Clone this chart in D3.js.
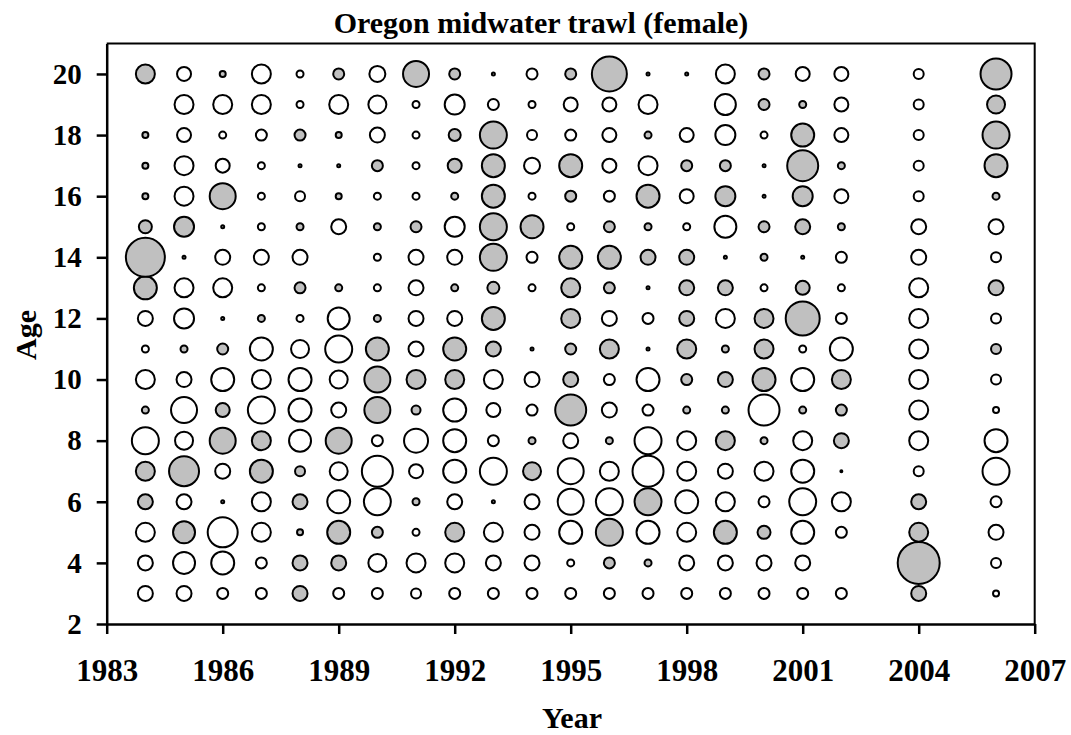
<!DOCTYPE html>
<html>
<head>
<meta charset="utf-8">
<script src="https://cdn.jsdelivr.net/npm/d3@7"></script>
<style>
  html, body { margin: 0; padding: 0; background: #fff; }
  svg { display: block; }
  text { font-family: "Liberation Serif", "Times New Roman", serif; font-weight: bold; fill: #000; }
</style>
</head>
<body>
<svg id="chart" width="1071" height="735"></svg>
<script>
// Pearson residuals of age composition, Oregon midwater trawl (female).
// Positive residuals are shaded, negative ones open; null = no observation.
const years = [1984, 1985, 1986, 1987, 1988, 1989, 1990, 1991, 1992, 1993,
               1994, 1995, 1996, 1997, 1998, 1999, 2000, 2001, 2002, 2004, 2006];
const ages = [3, 4, 5, 6, 7, 8, 9, 10, 11, 12, 13, 14, 15, 16, 17, 18, 19, 20];

// one row per year, ages 3 → 20
const residuals = [
  [-1.7, -1.7, -2.1,  1.7,  2.1, -2.9,  0.9, -2.1, -0.9, -1.7,  2.5,  4.1,  1.5,  0.8,  0.8,  0.8, null,  2.1], // 1984
  [-1.7, -2.4,  2.4, -1.7,  3.2, -2.0, -2.8, -1.7,  0.9, -2.2, -2.1,  0.5,  2.2, -2.1, -2.1, -1.6, -2.1, -1.6], // 1985
  [-1.3, -2.5, -3.2,  0.5, -1.7,  2.8,  1.6, -2.5,  1.3,  0.5, -2.1, -1.7,  0.5,  2.8, -1.6, -0.9, -2.1,  0.8], // 1986
  [-1.3, -1.3, -2.1, -2.1,  2.5,  2.1, -2.9, -2.1, -2.5,  0.9, -0.9, -1.7, -0.9, -0.9, -0.9, -1.3, -2.1, -2.1], // 1987
  [ 1.7,  1.7,  0.8,  1.7,  1.2, -2.4, -2.5, -2.5, -2.0, -0.9,  1.3, -1.7,  0.9, -1.2,  0.5,  1.3, -0.9, -0.9], // 1988
  [-1.3,  1.7,  2.5, -2.5, -2.0,  2.8, -1.7, -2.0, -2.9, -2.4,  0.9, null, -1.7,  0.8,  0.5,  0.8, -2.1,  1.3], // 1989
  [-1.3, -2.0,  1.3, -2.9, -3.3, -1.3,  2.8,  2.8,  2.5,  0.9, -0.9, -0.9,  0.9, -0.9,  1.3, -1.7, -2.0, -1.8], // 1990
  [-1.2, -2.1, -0.9,  0.9, -1.6, -2.6,  1.1,  2.1, -1.7, -1.7, -1.7, -1.7,  1.3, -0.9, -0.9, -0.9, -0.9,  2.8], // 1991
  [-1.3, -2.1,  2.1, -1.7, -2.5, -2.5, -2.5,  2.1,  2.5, -1.7,  0.9, -1.7, -2.2,  0.9,  1.6,  1.4, -2.2,  1.3], // 1992
  [-1.3, -1.7, -2.1,  0.5, -2.9, -1.3, -1.6, -2.1,  1.7,  2.5,  1.4,  2.9,  2.9,  2.5,  2.5,  2.9, -1.3,  0.5], // 1993
  [-1.3, -1.7, -1.7, -1.7,  2.0,  0.9, -1.3, -1.7,  0.5, null, -0.9, -1.3,  2.5, -0.9, -1.8, -1.2, -0.9, -1.3], // 1994
  [-1.3, -0.9, -2.5, -2.8, -2.8, -1.7,  3.3,  1.7,  1.3,  2.1,  2.1,  2.5, -0.9,  1.3,  2.5, -1.3, -1.6,  1.3], // 1995
  [-1.3,  1.3,  2.9, -2.9, -2.1,  0.9, -1.7, -1.3,  2.1, -1.7,  1.3,  2.5,  1.3, -1.3, -1.6, -1.6, -1.6,  3.7], // 1996
  [-1.3,  0.9, -2.5,  2.9, -3.3, -2.9, -1.3, -2.5,  0.5, -1.3,  0.5,  1.7,  0.9,  2.5, -2.1,  0.9, -2.1,  0.5], // 1997
  [-1.3, -1.7, -2.1, -2.5, -2.1, -2.1,  0.9,  1.3,  2.1,  1.7,  1.7,  1.7, -0.9, -1.6,  1.3, -1.6, null,  0.5], // 1998
  [-1.3, -1.7,  2.5, -2.1, -1.7,  2.1,  0.9,  1.7,  0.9, -2.1,  1.7,  0.5, -2.4,  2.2,  1.3, -2.2, -2.3, -2.1], // 1999
  [-1.3, -1.7,  1.5, -1.3, -2.1,  0.9, -3.3,  2.5,  2.1,  2.1, -0.9,  0.9,  1.3,  0.5,  0.5, -0.9,  1.3,  1.3], // 2000
  [-1.3, -1.7, -2.5, -2.9, -2.5, -2.1,  0.9, -2.5, -0.9,  3.6,  1.6,  0.5,  1.7,  2.2,  3.3,  2.5,  0.9, -1.6], // 2001
  [-1.3, null, -1.3, -2.1,  0.4,  1.7,  1.3,  2.1, -2.5, -1.3, -0.9, -1.3,  0.9, -1.6,  0.9, -1.6, -1.6, -1.6], // 2002
  [ 1.7,  4.4,  2.1,  1.7, -1.2, -2.1, -2.1, -2.1, -2.1, -2.1, -2.1, -1.7, -1.7, -1.2, -1.2, -1.2, -1.2, -1.2], // 2004
  [-0.8, -1.2, -1.7, -1.3, -2.9, -2.5, -0.8, -1.2,  1.2, -1.2,  1.7, -1.2, -1.7,  0.9,  2.5,  2.9,  2.0,  3.3]  // 2006
];

const xTicks = [1983, 1986, 1989, 1992, 1995, 1998, 2001, 2004, 2007];
const yTicks = [2, 4, 6, 8, 10, 12, 14, 16, 18, 20];

const titleText = "Oregon midwater trawl (female)";
const xTitle = "Year";
const yTitle = "Age";

const svg = d3.select("#chart");
const plot = { left: 106.7, right: 1034.7, top: 43.4, bottom: 624 };

const x = d3.scaleLinear().domain([1983, 2007]).range([plot.left, plot.right]);
const y = d3.scaleLinear().domain([2, 21]).range([plot.bottom, plot.top]);
const r = d3.scaleLinear().domain([0, 4.4]).range([0, 22]);

// flatten residual matrix into points
const points = [];
years.forEach((yr, i) => {
  ages.forEach((a, j) => {
    const v = residuals[i][j];
    if (v !== null) points.push({ year: yr, age: a, value: v });
  });
});

// bubbles
svg.append("g")
  .selectAll("circle")
  .data(points)
  .join("circle")
  .attr("cx", d => x(d.year))
  .attr("cy", d => y(d.age))
  .attr("r", d => Math.max(0.8, r(Math.abs(d.value)) - 1))
  .attr("fill", d => d.value > 0 ? "#c0c0c0" : "#ffffff")
  .attr("stroke", "#000")
  .attr("stroke-width", 2);

// frame (top and right sides)
svg.append("path")
  .attr("d", `M${plot.left},${plot.top}H${plot.right}V${plot.bottom}`)
  .attr("fill", "none")
  .attr("stroke", "#000")
  .attr("stroke-width", 2);

// bottom axis
const gx = svg.append("g")
  .attr("transform", `translate(0,${plot.bottom})`)
  .call(d3.axisBottom(x).tickValues(xTicks).tickFormat(d3.format("d")).tickSize(10).tickSizeOuter(0).tickPadding(25));
gx.select(".domain").attr("stroke-width", 2.5);
gx.selectAll(".tick line").attr("stroke-width", 2.5);
gx.selectAll("text")
  .attr("font-size", 31)
  .attr("font-family", "Liberation Serif, serif")
  .attr("font-weight", "bold")
  .attr("fill", "#000");

// left axis
const gy = svg.append("g")
  .attr("transform", `translate(${plot.left},0)`)
  .call(d3.axisLeft(y).tickValues(yTicks).tickSize(10).tickSizeOuter(0).tickPadding(15));
gy.select(".domain").attr("stroke-width", 2.5);
gy.selectAll(".tick line").attr("stroke-width", 2.5);
gy.selectAll("text")
  .attr("font-size", 29)
  .attr("font-family", "Liberation Serif, serif")
  .attr("font-weight", "bold")
  .attr("fill", "#000");

// titles
svg.append("text")
  .attr("x", 541).attr("y", 33)
  .attr("text-anchor", "middle")
  .attr("font-size", 30)
  .text(titleText);

svg.append("text")
  .attr("x", 572).attr("y", 728)
  .attr("text-anchor", "middle")
  .attr("font-size", 30)
  .text(xTitle);

svg.append("text")
  .attr("transform", "translate(36,335) rotate(-90)")
  .attr("text-anchor", "middle")
  .attr("font-size", 30)
  .text(yTitle);
</script>
</body>
</html>
